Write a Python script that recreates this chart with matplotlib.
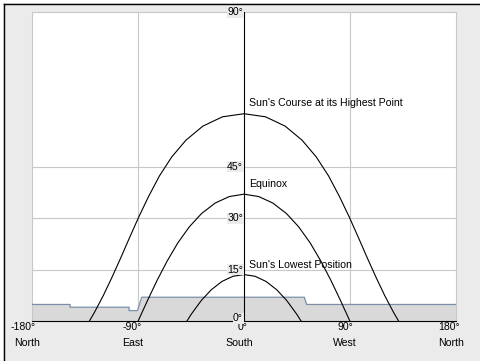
import matplotlib
matplotlib.use('Agg')
import matplotlib.pyplot as plt
from matplotlib.lines import Line2D
from matplotlib.patches import Rectangle

# sun paths (azimuth from south, east negative / altitude in degrees)
az_high = [-131.4, -127.3, -119.6, -112.1, -104.6, -97.1, -89.3, -80.9, -71.8, -61.4, -49.3, -34.9, -18.3, 0,
           18.3, 34.9, 49.3, 61.4, 71.8, 80.9, 89.3, 97.1, 104.6, 112.1, 119.6, 127.3, 131.4]
alt_high = [0, 2.4, 7.4, 12.8, 18.5, 24.4, 30.4, 36.4, 42.3, 47.8, 52.7, 56.8, 59.5, 60.4,
            59.5, 56.8, 52.7, 47.8, 42.3, 36.4, 30.4, 24.4, 18.5, 12.8, 7.4, 2.4, 0]

az_eq = [-90, -82.0, -73.8, -65.3, -56.2, -46.4, -35.9, -24.5, -12.5, 0,
         12.5, 24.5, 35.9, 46.4, 56.2, 65.3, 73.8, 82.0, 90]
alt_eq = [0, 6.0, 11.9, 17.5, 22.8, 27.5, 31.4, 34.4, 36.3, 37.0,
          36.3, 34.4, 31.4, 27.5, 22.8, 17.5, 11.9, 6.0, 0]

az_low = [-48.6, -44.7, -36.4, -27.7, -18.7, -9.4, 0, 9.4, 18.7, 27.7, 36.4, 44.7, 48.6]
alt_low = [0, 2.1, 6.0, 9.2, 11.6, 13.1, 13.6, 13.1, 11.6, 9.2, 6.0, 2.1, 0]

# horizon profile
hz_az = [-180, -147.7, -147.7, -97.6, -97.6, -90.5, -86.8, 51.2, 53.2, 180]
hz_alt = [4.9, 4.9, 4.1, 4.1, 3.1, 3.1, 7.0, 7.0, 4.9, 4.9]

curve_labels = ["Sun's Course at its Highest Point", "Equinox", "Sun's Lowest Position"]
curve_label_alt = [63.5, 40.0, 16.4]

y_ticks = [0, 15, 30, 45, 90]
x_ticks = [-180, -90, 0, 90, 180]
x_names = ['North', 'East', 'South', 'West', 'North']

plt.rcParams['font.family'] = ['Liberation Sans', 'DejaVu Sans']
plt.rcParams['font.size'] = 7.6

W, H = 481, 361
bg = '#ebebeb'
grid = '#c8c8c8'
fig = plt.figure(figsize=(W / 100, H / 100), dpi=100, facecolor=bg)

# outer border (white strip + black top/left line)
fig.add_artist(Rectangle((0, 1 - 3 / H), 1, 3 / H, transform=fig.transFigure, color='white', lw=0))
fig.add_artist(Rectangle((0, 0), 3 / W, 1, transform=fig.transFigure, color='white', lw=0))
fig.add_artist(Line2D([3.5 / W, 3.5 / W], [0, 1 - 3.5 / H], transform=fig.transFigure, color='black', lw=1))
fig.add_artist(Line2D([3.5 / W, 1], [1 - 3.5 / H, 1 - 3.5 / H], transform=fig.transFigure, color='black', lw=1))

ax = fig.add_axes([32 / W, 39.7 / H, 424 / W, 309.3 / H])
ax.set_facecolor('white')
ax.set_xlim(-180, 180)
ax.set_ylim(0, 90)
ax.set_xticks([])
ax.set_yticks([])
for s in ['left', 'right', 'top']:
    ax.spines[s].set_color(grid)
    ax.spines[s].set_linewidth(0.8)
ax.spines['bottom'].set_color('black')
ax.spines['bottom'].set_linewidth(0.8)
ax.spines['bottom'].set_zorder(6)

for y in [15, 30, 45]:
    ax.axhline(y, color=grid, lw=0.8, zorder=1)
for x in [-90, 90]:
    ax.axvline(x, color=grid, lw=0.8, zorder=1)

ax.fill_between(hz_az, 0, hz_alt, color='#d9d9d9', lw=0, zorder=2)
ax.plot(hz_az, hz_alt, color='#7a8ea8', lw=0.9, zorder=3)

ax.plot([0, 0], [0, 90], color='black', lw=0.8, zorder=4)

for a, h in [(az_high, alt_high), (az_eq, alt_eq), (az_low, alt_low)]:
    ax.plot(a, h, color='black', lw=0.8, zorder=5)

for lab, h in zip(curve_labels, curve_label_alt):
    ax.text(4, h, lab, ha='left', va='center', color='black', zorder=6)

for v in y_ticks:
    ax.annotate(f'{v}°', xy=(0, v), xytext=(-1, 3 if v == 0 else 0), textcoords='offset pixels',
                ha='right', va='center', zorder=7, annotation_clip=False,
                bbox=dict(boxstyle='square,pad=0.05', fc=bg, ec='none'))

for x, name in zip(x_ticks, x_names):
    ax.annotate(f'{x}°', xy=(x, 0), xytext=(3.5, -6), textcoords='offset pixels',
                ha='right', va='center', annotation_clip=False)
    ax.annotate(name, xy=(x, 0), xytext=(-5, -21.5), textcoords='offset pixels',
                ha='center', va='center', annotation_clip=False)

fig.savefig('out.png', dpi=100, facecolor=bg)
